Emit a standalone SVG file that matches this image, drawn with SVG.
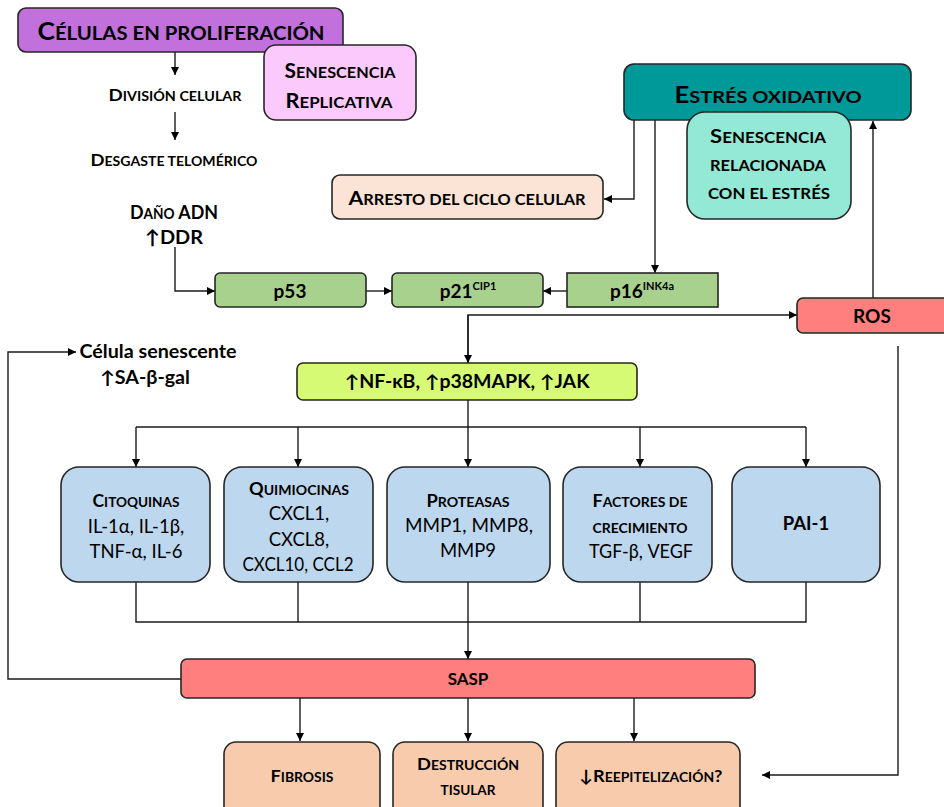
<svg xmlns="http://www.w3.org/2000/svg" width="944" height="807" viewBox="0 0 944 807">
  <defs>
    <marker id="arr" viewBox="0 0 10 10" refX="10" refY="5" markerWidth="8" markerHeight="8" markerUnits="userSpaceOnUse" orient="auto">
      <path d="M0,0 L10,5 L0,10 z" fill="#000"/>
    </marker>
    <style>
      .box { stroke: #262626; stroke-width: 1.6; }
      .t { font-family: Lato, "Open Sans", "Liberation Sans", sans-serif; fill: #000; text-anchor: middle; font-weight: bold; }
      .reg { font-weight: normal; }
      .ln { fill: none; stroke: #1a1a1a; stroke-width: 1.4; }
      .ar { fill: none; stroke: #1a1a1a; stroke-width: 1.4; marker-end: url(#arr); }
    </style>
  </defs>
  <rect width="944" height="807" fill="#fff"/>

  <!-- connectors -->
  <g id="connectors">
    <line class="ar" x1="175" y1="52" x2="175" y2="75"/>
    <line class="ar" x1="175" y1="112" x2="175" y2="140"/>
    <polyline class="ar" points="634,120 634,199 604,199"/>
    <line class="ar" x1="655" y1="120" x2="655" y2="273"/>
    <line class="ar" x1="873" y1="298" x2="873" y2="121"/>
    <polyline class="ar" points="175,247 175,291 215,291"/>
    <line class="ar" x1="366" y1="291" x2="392" y2="291"/>
    <line class="ar" x1="567" y1="291" x2="543" y2="291"/>
    <polyline class="ar" points="468,363 468,315 797,315"/>
    <line class="ar" x1="468" y1="315" x2="468" y2="363"/>
    <polyline class="ar" points="898,346 898,775 762,775"/>
    <line class="ln" x1="468" y1="400" x2="468" y2="427"/>
    <line class="ln" x1="136" y1="427" x2="806" y2="427"/>
    <line class="ar" x1="136" y1="427" x2="136" y2="467"/>
    <line class="ar" x1="298" y1="427" x2="298" y2="467"/>
    <line class="ar" x1="468" y1="427" x2="468" y2="467"/>
    <line class="ar" x1="640" y1="427" x2="640" y2="467"/>
    <line class="ar" x1="806" y1="427" x2="806" y2="467"/>
    <polyline class="ln" points="136,582 136,622 806,622 806,582"/>
    <line class="ln" x1="298" y1="582" x2="298" y2="622"/>
    <line class="ln" x1="640" y1="582" x2="640" y2="622"/>
    <line class="ar" x1="468" y1="582" x2="468" y2="659"/>
    <polyline class="ar" points="181,679 8,679 8,352 76,352"/>
    <line class="ar" x1="300" y1="698" x2="300" y2="741"/>
    <line class="ar" x1="468" y1="698" x2="468" y2="741"/>
    <line class="ar" x1="634" y1="698" x2="634" y2="741"/>
  </g>

  <!-- top left: proliferation branch -->
  <g id="proliferacion">
    <rect class="box" x="18" y="8" width="325" height="44" rx="8" fill="#c270dc"/>
    <text class="t" x="181" y="40" font-size="24" textLength="287" lengthAdjust="spacingAndGlyphs">C<tspan font-size="18.5">ÉLULAS EN PROLIFERACIÓN</tspan></text>
  </g>
  <g id="replicativa">
    <rect class="box" x="264" y="45" width="152" height="75" rx="12" fill="#fcc9fc"/>
    <text class="t" x="340" y="78" font-size="20" textLength="111" lengthAdjust="spacingAndGlyphs">S<tspan font-size="15.5">ENESCENCIA</tspan></text>
    <text class="t" x="339" y="108" font-size="20" textLength="107" lengthAdjust="spacingAndGlyphs">R<tspan font-size="15.5">EPLICATIVA</tspan></text>
  </g>
  <g id="division">
    <text class="t" x="175" y="101" font-size="17" textLength="133" lengthAdjust="spacingAndGlyphs">D<tspan font-size="13">IVISIÓN CELULAR</tspan></text>
  </g>
  <g id="desgaste">
    <text class="t" x="174" y="166" font-size="17" textLength="167" lengthAdjust="spacingAndGlyphs">D<tspan font-size="13">ESGASTE TELOMÉRICO</tspan></text>
  </g>

  <!-- oxidative stress branch -->
  <g id="estres">
    <rect class="box" x="624" y="64" width="287" height="56" rx="10" fill="#009999"/>
    <text class="t" x="768" y="103" font-size="22" textLength="187" lengthAdjust="spacingAndGlyphs">E<tspan font-size="17">STRÉS OXIDATIVO</tspan></text>
  </g>
  <g id="senescencia-estres">
    <rect class="box" x="687" y="112" width="164" height="107" rx="18" fill="#93e8d6"/>
    <text class="t" x="768" y="143" font-size="19" textLength="116" lengthAdjust="spacingAndGlyphs">S<tspan font-size="14.5">ENESCENCIA</tspan></text>
    <text class="t" x="768" y="171" font-size="14.5" textLength="116" lengthAdjust="spacingAndGlyphs">RELACIONADA</text>
    <text class="t" x="769" y="199" font-size="14.5" textLength="122" lengthAdjust="spacingAndGlyphs">CON EL ESTRÉS</text>
  </g>
  <g id="arresto">
    <rect class="box" x="332" y="175" width="271" height="44" rx="8" fill="#fbe4d6"/>
    <text class="t" x="467" y="205" font-size="19" textLength="237" lengthAdjust="spacingAndGlyphs">A<tspan font-size="14.5">RRESTO DEL CICLO CELULAR</tspan></text>
  </g>
  <g id="dano">
    <text class="t" x="174" y="219" font-size="19" textLength="88" lengthAdjust="spacingAndGlyphs">D<tspan font-size="14.5">AÑO</tspan> ADN</text>
    <text class="t" x="174" y="244" font-size="19" textLength="58" lengthAdjust="spacingAndGlyphs">↑DDR</text>
  </g>

  <!-- cell-cycle regulators -->
  <g id="p53">
    <rect class="box" x="215" y="273" width="151" height="34" rx="5" fill="#a9d18e"/>
    <text class="t" x="290" y="298" font-size="19">p53</text>
  </g>
  <g id="p21">
    <rect class="box" x="392" y="273" width="151" height="34" rx="5" fill="#a9d18e"/>
    <text class="t" x="468" y="298" font-size="19">p21<tspan font-size="11" dy="-8">CIP1</tspan></text>
  </g>
  <g id="p16">
    <rect class="box" x="567" y="273" width="151" height="34" fill="#a9d18e"/>
    <text class="t" x="642" y="298" font-size="19">p16<tspan font-size="11" dy="-8">INK4a</tspan></text>
  </g>
  <g id="ros">
    <rect class="box" x="797" y="298" width="160" height="35" rx="6" fill="#ff7f7f"/>
    <text class="t" x="872" y="323" font-size="19">ROS</text>
  </g>
  <g id="celula-senescente">
    <text class="t" x="158" y="358" font-size="18" textLength="157" lengthAdjust="spacingAndGlyphs">Célula senescente</text>
    <text class="t" x="145" y="384" font-size="18" textLength="90" lengthAdjust="spacingAndGlyphs">↑SA-β-gal</text>
  </g>
  <g id="senales">
    <rect class="box" x="297" y="363" width="340" height="37" rx="6" fill="#d6fa73"/>
    <text class="t" x="467" y="388" font-size="18" textLength="245" lengthAdjust="spacingAndGlyphs">↑NF-κB, ↑p38MAPK, ↑JAK</text>
  </g>

  <!-- SASP components -->
  <g id="citoquinas">
    <rect class="box" x="61" y="467" width="149" height="115" rx="18" fill="#bdd7ee"/>
    <text class="t" x="136" y="507" font-size="16.5" textLength="87" lengthAdjust="spacingAndGlyphs">C<tspan font-size="12.8">ITOQUINAS</tspan></text>
    <text class="t reg" x="136" y="533" font-size="18.5">IL-1α, IL-1β,</text>
    <text class="t reg" x="136" y="558" font-size="18.5">TNF-α, IL-6</text>
  </g>
  <g id="quimiocinas">
    <rect class="box" x="224" y="467" width="149" height="115" rx="18" fill="#bdd7ee"/>
    <text class="t" x="299" y="495" font-size="16.5" textLength="100" lengthAdjust="spacingAndGlyphs">Q<tspan font-size="12.8">UIMIOCINAS</tspan></text>
    <text class="t reg" x="299" y="520" font-size="18.5">CXCL1,</text>
    <text class="t reg" x="299" y="546" font-size="18.5">CXCL8,</text>
    <text class="t reg" x="298" y="571" font-size="18.5" textLength="111" lengthAdjust="spacingAndGlyphs">CXCL10, CCL2</text>
  </g>
  <g id="proteasas">
    <rect class="box" x="387" y="467" width="163" height="115" rx="18" fill="#bdd7ee"/>
    <text class="t" x="468" y="507" font-size="16.5" textLength="83" lengthAdjust="spacingAndGlyphs">P<tspan font-size="12.8">ROTEASAS</tspan></text>
    <text class="t reg" x="469" y="532" font-size="18.5" textLength="128" lengthAdjust="spacingAndGlyphs">MMP1, MMP8,</text>
    <text class="t reg" x="468" y="557" font-size="18.5">MMP9</text>
  </g>
  <g id="factores">
    <rect class="box" x="563" y="467" width="149" height="115" rx="18" fill="#bdd7ee"/>
    <text class="t" x="640" y="507" font-size="16.5" textLength="95" lengthAdjust="spacingAndGlyphs">F<tspan font-size="12.8">ACTORES DE</tspan></text>
    <text class="t" x="640" y="533" font-size="12.8" textLength="95" lengthAdjust="spacingAndGlyphs">CRECIMIENTO</text>
    <text class="t reg" x="641" y="558" font-size="18.5" textLength="104" lengthAdjust="spacingAndGlyphs">TGF-β, VEGF</text>
  </g>
  <g id="pai1">
    <rect class="box" x="732" y="467" width="148" height="115" rx="18" fill="#bdd7ee"/>
    <text class="t" x="806" y="530" font-size="18.5">PAI-1</text>
  </g>

  <!-- SASP and outcomes -->
  <g id="sasp">
    <rect class="box" x="181" y="659" width="574" height="39" rx="6" fill="#ff7f7f"/>
    <text class="t" x="468" y="685" font-size="17">SASP</text>
  </g>
  <g id="fibrosis">
    <rect class="box" x="224" y="742" width="156" height="80" rx="12" fill="#f8cbad"/>
    <text class="t" x="302" y="782" font-size="17" textLength="63" lengthAdjust="spacingAndGlyphs">F<tspan font-size="13">IBROSIS</tspan></text>
  </g>
  <g id="destruccion">
    <rect class="box" x="393" y="742" width="150" height="80" rx="12" fill="#f8cbad"/>
    <text class="t" x="468" y="770" font-size="17" textLength="102" lengthAdjust="spacingAndGlyphs">D<tspan font-size="13">ESTRUCCIÓN</tspan></text>
    <text class="t" x="468" y="795" font-size="13" textLength="55" lengthAdjust="spacingAndGlyphs">TISULAR</text>
  </g>
  <g id="reepitelizacion">
    <rect class="box" x="556" y="742" width="184" height="80" rx="12" fill="#f8cbad"/>
    <text class="t" x="651" y="782" font-size="17" textLength="143" lengthAdjust="spacingAndGlyphs">↓R<tspan font-size="13">EEPITELIZACIÓN</tspan>?</text>
  </g>
</svg>
